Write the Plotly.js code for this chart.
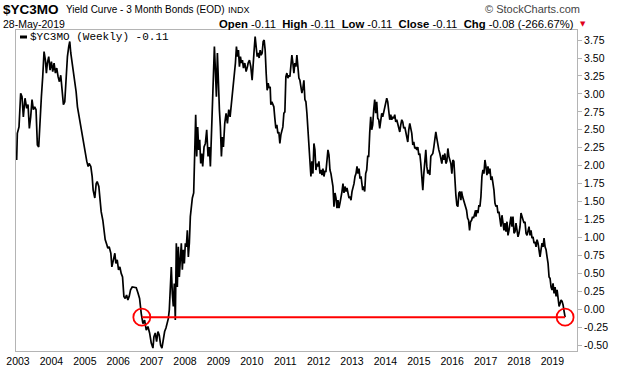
<!DOCTYPE html>
<html>
<head>
<meta charset="utf-8">
<script src="https://cdn.plot.ly/plotly-3.0.1.min.js"></script>
<style>
  html, body { margin: 0; padding: 0; background: #ffffff; }
  #chart { width: 620px; height: 376px; }
</style>
</head>
<body>
<div id="chart"></div>
<script>
// ---- data (decimal years, weekly close of $YC3MO) ----
var dates = [
2002.96,2002.98,2003.03,2003.08,2003.12,2003.16,2003.21,2003.26,2003.30,2003.34,
2003.38,2003.42,2003.46,2003.50,2003.54,2003.58,2003.62,2003.66,2003.70,2003.74,
2003.78,2003.82,2003.85,2003.88,2003.92,2003.96,2004.00,2004.04,2004.08,2004.12,
2004.16,2004.20,2004.24,2004.28,2004.32,2004.36,2004.40,2004.44,2004.48,2004.52,
2004.55,2004.58,2004.62,2004.66,2004.70,2004.74,2004.78,2004.82,2004.86,2004.90,
2004.94,2004.98,2005.01,2005.06,2005.10,2005.13,2005.18,2005.22,2005.25,2005.30,
2005.34,2005.37,2005.42,2005.46,2005.49,2005.54,2005.57,2005.61,2005.66,2005.69,
2005.73,2005.78,2005.81,2005.85,2005.90,2005.93,2005.97,2006.01,2006.05,2006.09,
2006.13,2006.17,2006.21,2006.25,2006.29,2006.33,2006.37,2006.42,
2006.44,2006.54,2006.59,2006.64,2006.69,2006.74,2006.79,2006.84,2006.89,2006.94,
2006.99,2007.04,2007.07,2007.11,2007.15,2007.19,2007.23,2007.27,2007.31,2007.35,
2007.39,2007.43,2007.47,2007.50,2007.53,2007.56,2007.59,2007.62,2007.65,2007.68,
2007.71,2007.74,2007.77,2007.80,2007.83,2007.86,2007.89,2007.92,2007.95,2007.98,
2008.01,2008.04,2008.07,2008.10,2008.13,2008.16,2008.19,2008.22,2008.26,2008.29,
2008.32,2008.35,2008.38,2008.41,2008.44,2008.47,2008.50,2008.53,2008.57,2008.61,
2008.65,2008.69,2008.73,2008.76,2008.79,2008.82,2008.85,2008.88,2008.91,2008.94,
2008.97,2009.00,2009.03,2009.06,2009.09,2009.12,2009.15,2009.19,2009.23,2009.27,
2009.31,2009.35,2009.39,2009.43,2009.47,2009.51,2009.54,2009.57,2009.60,2009.63,
2009.66,2009.69,2009.72,2009.75,2009.79,2009.83,2009.87,
2009.89,2009.93,2009.97,2010.01,2010.04,2010.07,2010.10,2010.13,2010.16,2010.19,
2010.22,2010.25,2010.28,2010.31,2010.34,2010.37,2010.40,2010.43,2010.46,2010.49,
2010.52,2010.55,2010.57,2010.60,2010.63,2010.66,2010.69,2010.72,2010.75,2010.78,
2010.81,2010.84,2010.87,2010.90,2010.93,2010.96,2010.99,2011.02,2011.05,2011.08,
2011.11,2011.14,2011.17,2011.20,2011.23,2011.26,2011.29,2011.32,2011.35,2011.38,
2011.41,2011.44,2011.47,2011.50,2011.53,2011.56,2011.59,2011.62,2011.65,2011.68,
2011.71,2011.74,2011.77,2011.80,2011.83,2011.86,2011.89,2011.92,2011.95,2011.98,
2012.01,2012.04,2012.07,2012.10,2012.13,2012.16,2012.19,2012.22,2012.25,2012.28,
2012.31,2012.34,2012.37,2012.40,2012.43,2012.46,2012.49,2012.52,2012.55,2012.58,
2012.61,2012.64,2012.67,2012.70,2012.73,2012.76,2012.79,2012.82,2012.85,2012.88,
2012.91,2012.94,2012.97,2013.00,2013.03,2013.06,2013.09,2013.12,2013.15,2013.18,
2013.21,2013.24,2013.27,
2013.32,2013.35,2013.38,2013.41,2013.44,2013.47,2013.50,2013.53,2013.56,2013.59,
2013.62,2013.65,2013.68,2013.71,2013.74,2013.77,2013.80,2013.83,2013.86,2013.89,
2013.92,2013.95,2013.98,2014.01,2014.04,2014.07,2014.10,2014.13,2014.16,2014.19,
2014.22,2014.25,2014.28,2014.31,2014.34,2014.37,2014.40,2014.43,2014.46,2014.49,
2014.52,2014.55,2014.58,2014.61,2014.64,2014.67,2014.70,2014.73,2014.76,2014.79,
2014.82,2014.85,2014.88,2014.91,2014.94,2014.97,2015.00,2015.03,2015.06,2015.09,
2015.12,2015.15,2015.18,2015.21,2015.24,2015.27,2015.30,2015.33,2015.36,2015.39,
2015.42,2015.45,2015.48,2015.51,2015.54,2015.57,2015.60,2015.63,2015.66,2015.69,
2015.72,2015.75,2015.78,2015.81,2015.84,2015.87,2015.90,2015.93,2015.96,2015.99,
2016.02,2016.05,2016.08,2016.11,2016.14,2016.17,2016.20,2016.23,2016.26,2016.28,
2016.31,2016.34,2016.37,2016.40,2016.43,2016.46,2016.49,2016.52,2016.55,2016.58,
2016.61,2016.64,2016.67,2016.70,
2016.71,2016.74,2016.77,2016.80,2016.83,2016.86,2016.89,2016.92,2016.95,2016.98,
2017.01,2017.04,2017.07,2017.10,2017.13,2017.16,2017.19,2017.22,2017.25,2017.28,
2017.31,2017.34,2017.37,2017.40,2017.43,2017.46,2017.49,2017.52,2017.55,2017.58,
2017.61,2017.64,2017.67,2017.70,2017.73,2017.76,2017.79,2017.82,2017.85,2017.88,
2017.91,2017.94,2017.97,2018.00,2018.03,2018.06,2018.09,2018.12,2018.15,2018.18,
2018.21,2018.24,2018.27,2018.30,2018.33,2018.36,2018.39,2018.42,2018.45,2018.48,
2018.51,2018.54,2018.57,2018.60,2018.63,2018.66,2018.69,2018.72,2018.75,2018.78,
2018.81,2018.84,2018.87,2018.90,2018.93,2018.96,2018.99,2019.02,2019.05,2019.08,
2019.11,2019.14,2019.17,2019.20,2019.23,2019.26,2019.29,2019.32,2019.35,2019.38
];
var spread = [
2.08,2.45,2.54,3.01,2.96,2.68,2.94,2.80,2.85,2.52,
2.68,2.92,2.78,2.82,2.78,2.29,2.26,2.73,2.96,3.24,
3.59,3.47,3.29,3.43,3.52,3.33,3.45,3.31,3.43,3.29,
3.36,3.24,3.17,3.26,3.05,2.85,2.89,3.24,3.52,3.66,
3.73,3.57,3.45,3.31,3.15,3.03,2.82,2.71,2.59,2.47,
2.40,2.29,2.17,2.06,1.99,2.03,1.99,1.85,1.66,1.55,
1.75,1.78,1.71,1.43,1.36,1.24,1.10,0.97,0.90,0.85,
0.87,0.78,0.59,0.69,0.78,0.64,0.69,0.55,0.59,0.50,
0.45,0.18,0.15,0.20,0.13,0.18,0.27,0.31,
0.31,0.30,0.23,0.15,-0.06,-0.20,-0.15,-0.29,-0.24,-0.33,
-0.47,-0.54,-0.38,-0.33,-0.45,-0.31,-0.36,-0.50,-0.54,-0.40,
-0.31,-0.26,-0.20,-0.13,-0.01,0.41,0.59,0.22,0.04,0.36,
-0.15,0.92,0.31,0.87,0.45,0.69,0.92,0.55,0.83,0.64,
0.92,0.87,1.10,0.73,0.92,1.29,1.48,1.55,1.62,2.22,
2.71,2.13,2.54,2.22,2.36,2.03,2.17,1.99,2.26,2.31,
2.50,2.13,2.26,1.99,2.36,2.87,3.29,3.66,3.33,2.96,
3.57,3.05,2.78,2.54,2.13,2.40,2.26,2.59,2.73,2.59,
2.78,2.68,2.87,3.01,3.19,3.43,3.66,3.52,3.61,3.38,
3.52,3.43,3.47,3.36,3.43,3.31,3.38,
3.43,3.47,3.38,3.19,3.52,3.61,3.80,3.66,3.52,3.57,
3.50,3.61,3.54,3.57,3.73,3.75,3.61,3.29,3.05,3.15,
3.08,3.10,2.85,2.89,2.85,2.82,2.66,2.52,2.57,2.45,
2.47,2.31,2.43,2.50,2.54,2.73,2.75,3.24,3.29,3.22,
3.26,3.24,3.40,3.54,3.43,3.29,3.43,3.38,3.54,3.38,
3.22,3.19,3.10,3.01,3.08,3.19,2.92,2.89,2.73,2.50,
2.17,2.03,1.85,2.06,1.89,2.31,2.22,1.94,2.03,1.99,
2.06,1.89,1.94,1.87,1.96,1.85,1.92,1.92,2.08,2.22,
2.15,1.94,1.89,1.80,1.71,1.43,1.62,1.55,1.41,1.52,
1.41,1.48,1.55,1.64,1.75,1.62,1.71,1.64,1.69,1.62,
1.55,1.57,1.52,1.64,1.69,1.75,1.85,1.89,1.99,1.89,
1.96,1.82,1.85,
1.66,1.71,1.64,1.89,1.94,2.13,2.13,2.45,2.68,2.50,
2.57,2.78,2.92,2.73,2.89,2.66,2.64,2.52,2.61,2.73,
2.68,2.75,2.80,2.87,2.94,2.89,2.73,2.64,2.71,2.64,
2.68,2.66,2.71,2.61,2.64,2.57,2.54,2.47,2.57,2.64,
2.61,2.52,2.54,2.45,2.40,2.33,2.50,2.59,2.52,2.45,
2.29,2.33,2.24,2.26,2.22,2.26,2.15,2.17,2.03,1.85,
1.66,1.89,2.06,2.22,1.99,1.89,1.94,1.87,2.13,2.15,
2.17,2.26,2.36,2.47,2.38,2.26,2.22,2.17,2.08,2.03,
2.15,2.08,2.17,2.03,2.06,2.24,2.13,2.08,2.03,1.89,
2.08,2.06,1.75,1.59,1.45,1.43,1.62,1.64,1.52,1.64,
1.57,1.52,1.45,1.43,1.38,1.27,1.24,1.10,1.22,1.24,
1.29,1.27,1.34,1.38,
1.29,1.38,1.34,1.45,1.43,1.57,1.85,1.94,1.89,2.08,
1.99,1.87,1.99,1.89,1.96,1.80,1.85,1.75,1.66,1.48,
1.43,1.45,1.34,1.36,1.20,1.15,1.31,1.15,1.10,1.20,
1.08,1.22,1.03,1.10,1.24,1.29,1.15,1.29,1.06,1.08,
1.20,1.10,1.01,1.06,1.15,1.34,1.29,1.24,1.20,1.22,
1.06,1.03,1.10,1.15,1.03,1.10,0.99,1.01,0.92,0.94,
0.87,0.97,0.92,0.85,0.73,0.83,0.92,0.87,0.99,0.87,
0.83,0.73,0.64,0.45,0.43,0.31,0.27,0.36,0.22,0.31,
0.18,0.27,0.13,0.04,0.08,0.13,0.11,0.06,-0.03,-0.11
];
var yearTicks = [2003,2004,2005,2006,2007,2008,2009,2010,2011,2012,2013,2014,2015,2016,2017,2018,2019];
var yTicks = [-0.50,-0.25,0.00,0.25,0.50,0.75,1.00,1.25,1.50,1.75,2.00,2.25,2.50,2.75,3.00,3.25,3.50,3.75];
var lastClose = -0.11;

// ---- layout geometry ----
var W = 620, H = 376, L = 16, R = 577, T = 30, B = 351;
function px(x) { return (x - L) / (R - L); }
function py(y) { return (B - y) / (B - T); }

// crossing of the last-close level (first time the curve falls through it)
var xCross = dates[0];
for (var i = 1; i < spread.length; i++) {
  if (spread[i - 1] > lastClose && spread[i] <= lastClose) {
    var f = (spread[i - 1] - lastClose) / (spread[i - 1] - spread[i]);
    xCross = dates[i - 1] + f * (dates[i] - dates[i - 1]);
    break;
  }
}
var xEnd = dates[dates.length - 1];

var sans = 'Liberation Sans, Arial, sans-serif';
var trace = {
  x: dates, y: spread, type: 'scatter', mode: 'lines',
  line: { color: '#000000', width: 1.7 },
  hoverinfo: 'skip', showlegend: false
};

function ann(text, x, y, size, anchor, extra) {
  var a = {
    text: text, xref: 'paper', yref: 'paper', x: px(x), y: py(y),
    xanchor: anchor, yanchor: 'middle', showarrow: false, borderpad: 0,
    font: { family: sans, size: size, color: '#000000' }
  };
  for (var k in (extra || {})) a[k] = extra[k];
  return a;
}

var annotations = [
  ann('<b>$YC3MO</b>', 2, 9, 13.5, 'left'),
  ann('Yield Curve - 3 Month Bonds (EOD)', 65, 10, 10, 'left'),
  ann('INDX', 227, 10, 9, 'left'),
  ann('© StockCharts.com', 581, 9, 11, 'right', { font: { family: sans, size: 11, color: '#444444' } }),
  ann('28-May-2019', 2, 23.5, 10.5, 'left'),
  ann('<b>Open</b> -0.11  <b>High</b> -0.11  <b>Low</b> -0.11  <b>Close</b> -0.11  <b>Chg</b> -0.08 (-266.67%)', 575, 23.5, 11.3, 'right'),
  ann('▼', 583, 24, 7, 'center', { font: { family: 'DejaVu Sans', size: 7, color: '#e0001b' } }),
  ann('$YC3MO (Weekly) -0.11', 29, 37, 11, 'left', { font: { family: 'Liberation Mono, DejaVu Sans Mono, monospace', size: 11, color: '#000000' } })
];

var red = '#ff0000';
var shapes = [
  { type: 'line', xref: 'paper', yref: 'paper', x0: px(20), x1: px(27), y0: py(37), y1: py(37),
    line: { color: '#000000', width: 3 } },
  { type: 'line', xref: 'x', yref: 'y', x0: xCross, x1: xEnd, y0: lastClose, y1: lastClose,
    line: { color: red, width: 2 }, layer: 'above' },
  { type: 'circle', xref: 'x', yref: 'y', xsizemode: 'pixel', ysizemode: 'pixel',
    xanchor: xCross, yanchor: lastClose, x0: -8.5, x1: 8.5, y0: -8.5, y1: 8.5,
    line: { color: red, width: 1.8 }, fillcolor: 'rgba(0,0,0,0)', layer: 'above' },
  { type: 'circle', xref: 'x', yref: 'y', xsizemode: 'pixel', ysizemode: 'pixel',
    xanchor: xEnd, yanchor: lastClose, x0: -8.5, x1: 8.5, y0: -8.5, y1: 8.5,
    line: { color: red, width: 1.8 }, fillcolor: 'rgba(0,0,0,0)', layer: 'above' }
];

var x0 = 2003 + (L - 18) / 33.4, x1 = 2003 + (R - 18) / 33.4;
var layout = {
  width: W, height: H,
  margin: { l: L, r: W - R, t: T, b: H - B, pad: 0 },
  paper_bgcolor: '#ffffff', plot_bgcolor: '#ffffff',
  showlegend: false,
  font: { family: sans, size: 10.5, color: '#000000' },
  xaxis: {
    range: [x0, x1], tickmode: 'array', tickvals: yearTicks,
    ticktext: yearTicks.map(String), ticks: '', showgrid: false, zeroline: false,
    showline: true, linecolor: '#b4b4b4', linewidth: 1, mirror: true,
    tickfont: { family: sans, size: 10.5, color: '#000000' }, fixedrange: true
  },
  yaxis: {
    range: [-0.581, 3.89], side: 'right', tickmode: 'array', tickvals: yTicks,
    ticktext: yTicks.map(function (v) { return v.toFixed(2); }),
    ticks: 'outside', ticklen: 4, tickcolor: '#b4b4b4', tickwidth: 1,
    showgrid: false, zeroline: false,
    showline: true, linecolor: '#b4b4b4', linewidth: 1, mirror: true,
    tickfont: { family: sans, size: 10.5, color: '#000000' }, fixedrange: true
  },
  annotations: annotations,
  shapes: shapes
};

Plotly.newPlot('chart', [trace], layout, { staticPlot: true, displayModeBar: false });
</script>
</body>
</html>
